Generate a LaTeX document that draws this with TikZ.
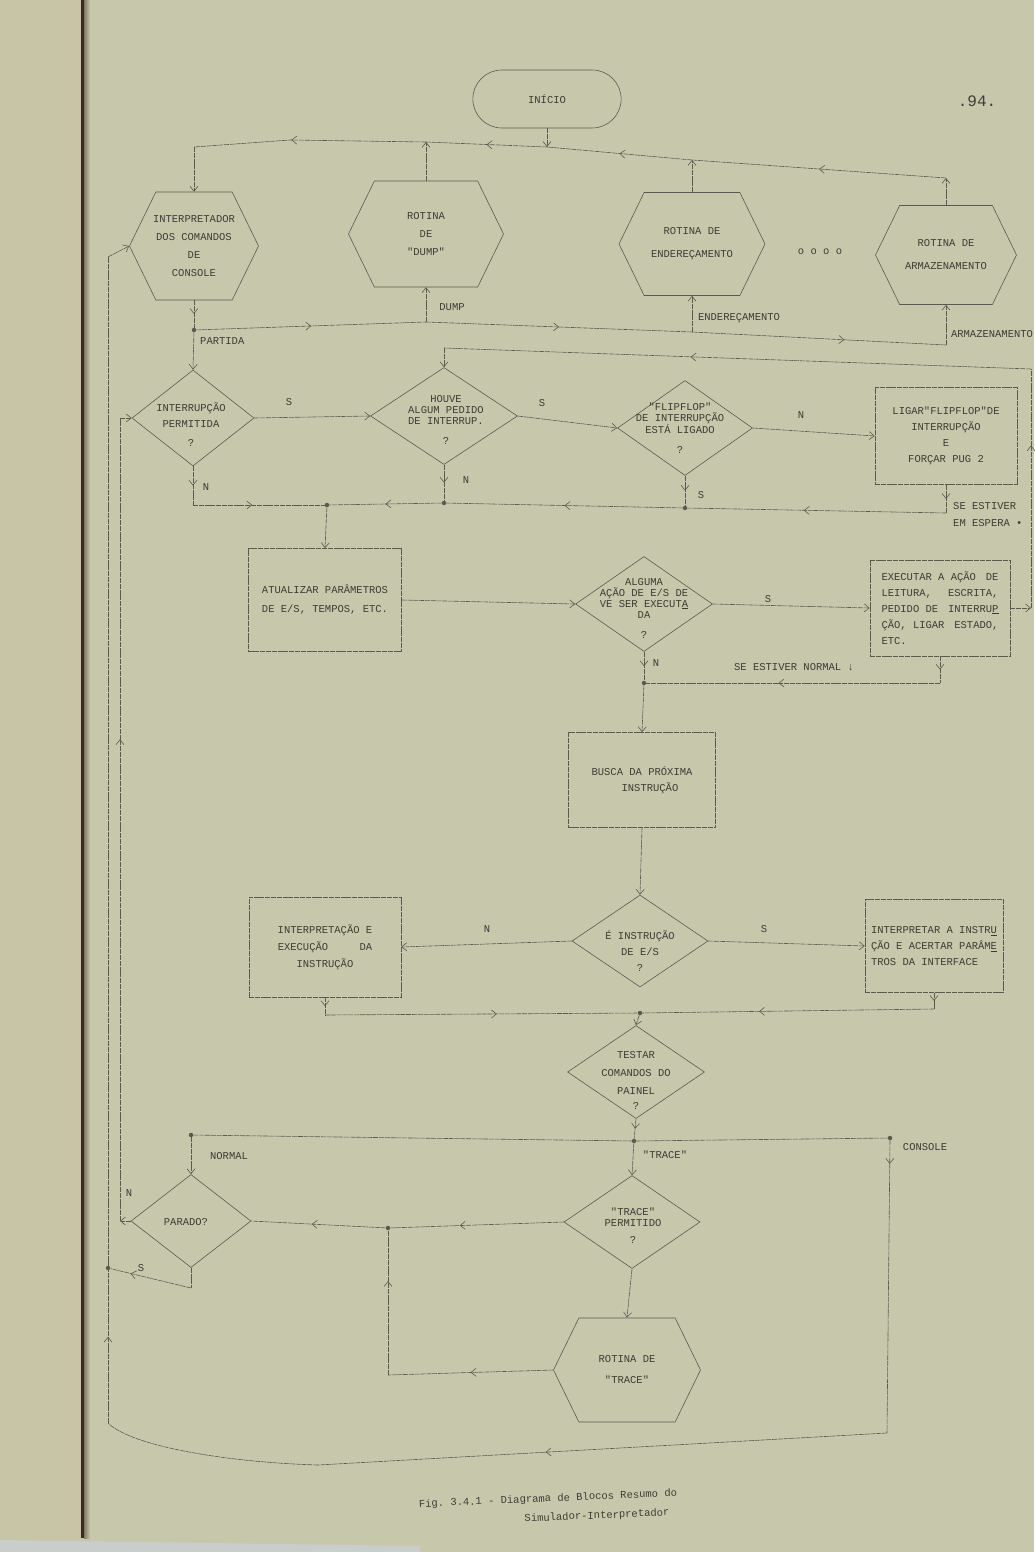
\documentclass[tikz,border=0pt]{standalone}
\usepackage{fontspec}
\setmonofont{Liberation Mono}
\usetikzlibrary{shapes.geometric,shapes.symbols,shapes.misc,arrows.meta,decorations.markings,calc}

\definecolor{paper}{HTML}{C7C8AB}
\definecolor{margin}{HTML}{C8C5A6}
\definecolor{ink}{HTML}{3C3C36}
\definecolor{rule}{HTML}{5A5A50}
\definecolor{spine}{HTML}{3A2A22}
\definecolor{floor}{HTML}{C9CDCC}

\begin{document}
\begin{tikzpicture}[x=1pt,y=-1pt,
  every node/.style={font=\fontsize{10.5}{18}\selectfont\ttfamily, text=ink},
  >={Straight Barb[length=5pt,width=8pt]},
  wire/.style={draw=rule, line width=0.6pt, dash pattern=on 5pt off 0.8pt},
  flow/.style={wire,->},
  midtip/.style={wire, postaction={decorate,decoration={markings,mark=at position #1 with {\arrow{Straight Barb[length=5pt,width=8pt]}}}}},
  midtip/.default=0.5,
  hexa/.style={shape=signal, signal to=east and west, signal pointer angle=128, draw=rule, line width=0.6pt, inner sep=0pt},
  deci/.style={diamond, draw=rule, line width=0.6pt, inner sep=0pt},
  proc/.style={rectangle, draw=rule, line width=0.6pt, dash pattern=on 5pt off 0.8pt, inner sep=0pt, align=center},
  txt/.style={inner sep=0pt, align=center},
  tight/.style={font=\fontsize{10.5}{11}\selectfont\ttfamily},
  lbl/.style={inner sep=0pt},
  junction/.style={circle, fill=rule, inner sep=0pt, minimum size=4.5pt},
]
% page, margin and binding
\useasboundingbox (0,0) rectangle (1034,1552);
\fill[paper] (0,0) rectangle (1034,1552);
\fill[margin] (0,0) rectangle (83,1552);
\fill[floor] (0,1540) -- (420,1546) -- (420,1552) -- (0,1552) -- cycle;
\fill[spine] (81,0) rectangle (84,1538);
\shade[left color=spine!50!paper, right color=paper] (84,0) rectangle (90,1538);

% start and page number
\node[rounded rectangle, draw=rule, line width=0.6pt, minimum width=155pt, minimum height=58pt] (inicio) at (547,99) {INÍCIO};
\node (pg) at (977,101) {\fontsize{16}{16}\selectfont .94.};

% routines
\node[hexa, minimum width=129pt, minimum height=108pt] (hcons) at (194,246) {};
\node[txt] (thcons) at (hcons) {INTERPRETADOR\\DOS COMANDOS\\DE\\CONSOLE};
\node[hexa, minimum width=155pt, minimum height=106pt] (hdump) at (426,234) {};
\node[txt] (thdump) at (hdump) {ROTINA\\DE\\"DUMP"};
\node[hexa, minimum width=146pt, minimum height=103pt] (hend) at (692,244) {};
\node[txt] (thend) at (hend) {ROTINA DE\\[5pt]ENDEREÇAMENTO};
\node[hexa, minimum width=141pt, minimum height=99pt] (harm) at (946,255) {};
\node[txt] (tharm) at (harm) {ROTINA DE\\[5pt]ARMAZENAMENTO};
\node (etc) at (820,252) {o o o o};

% top bus (returns to the console interpreter)
\coordinate (b0) at (194,147);
\coordinate (bk) at (290,140);
\coordinate (bD) at (426,142);
\coordinate (bI) at (547,147);
\coordinate (bE) at (692,160);
\coordinate (bA) at (946,178);
\draw[flow] (inicio.south) -- (bI);
\draw[midtip] (bA) -- (bE);
\draw[midtip] (bE) -- (bI);
\draw[midtip] (bI) -- (bD);
\draw[midtip=0.58] (bD) -- (bk) -- (b0);
\draw[flow] (b0) -- (hcons.north);
\draw[flow] (hdump.north) -- (bD);
\draw[flow] (hend.north) -- (bE);
\draw[flow] (harm.north) -- (bA);

% dispatch bus
\node[junction] (dP) at (194,330) {};
\coordinate (d1) at (426,322);
\coordinate (d2) at (692,332);
\coordinate (d3) at (946,345);
\draw[midtip] (hcons.south) -- (dP);
\draw[midtip] (dP) -- (d1);
\draw[midtip] (d1) -- (d2);
\draw[midtip=0.6] (d2) -- (d3);
\draw[flow] (d1) -- (hdump.south);
\draw[flow] (d2) -- (hend.south);
\draw[flow] (d3) -- (harm.south);
\node[lbl] (lDump) at (452,307) {DUMP};
\node[lbl] (lEnd) at (739,318) {ENDEREÇAMENTO};
\node[lbl] (lArm) at (992,334) {ARMAZENAMENTO};
\node[lbl, anchor=west] (lPart) at (200,341) {PARTIDA};

% interrupt handling
\node[deci, minimum width=122pt, minimum height=96pt] (dInt) at (193,418) {};
\node[txt] (tdInt) at (191,425) {INTERRUPÇÃO\\[-2pt]PERMITIDA\\[1pt]?};
\node[deci, minimum width=147pt, minimum height=97pt] (dHouve) at (444,416) {};
\node[txt, tight] (tdHouve) at (446,420) {HOUVE\\ALGUM PEDIDO\\DE INTERRUP.\\[9pt]?};
\node[deci, minimum width=135pt, minimum height=95pt] (dFlip) at (685,428) {};
\node[txt, tight] (tdFlip) at (680,428) {"FLIPFLOP"\\DE INTERRUPÇÃO\\ESTÁ LIGADO\\[9pt]?};
\node[proc, font=\fontsize{10.5}{16}\selectfont\ttfamily, minimum width=142pt, minimum height=97pt] (bLigar) at (946,436) {LIGAR"FLIPFLOP"DE\\INTERRUPÇÃO\\E\\FORÇAR PUG 2};
\draw[flow] (dP) -- (dInt.north);
\draw[flow] (dInt.east) -- (dHouve.west);
\draw[flow] (dHouve.east) -- (dFlip.west);
\draw[flow] (dFlip.east) -- (bLigar.west);
\node[lbl] (s1) at (289,402) {S};
\node[lbl] (s2) at (542,403) {S};
\node[lbl] (n1) at (801,415) {N};

% collecting bus below the interrupt tests
\coordinate (jL) at (193,505);
\node[junction] (j1) at (327,505) {};
\node[junction] (j2) at (444,503) {};
\node[junction] (j3) at (685,508) {};
\coordinate (jR) at (946,513);
\draw[midtip] (dInt.south) -- (jL);
\draw[midtip=0.45] (jL) -- (j1);
\draw[midtip] (dHouve.south) -- (j2);
\draw[midtip] (j2) -- (j1);
\draw[midtip] (dFlip.south) -- (j3);
\draw[midtip] (j3) -- (j2);
\draw[midtip] (bLigar.south) -- (jR);
\draw[midtip=0.55] (jR) -- (j3);
\node[lbl] (n2) at (206,487) {N};
\node[lbl] (n3) at (466,480) {N};
\node[lbl] (s3) at (701,495) {S};
\node[lbl, anchor=west, align=left, font=\fontsize{10.5}{17}\selectfont\ttfamily] (lEsp) at (953,515) {SE ESTIVER\\EM ESPERA •};

% I/O simulation
\node[proc, align=left, font=\fontsize{10.5}{19}\selectfont\ttfamily, minimum width=153pt, minimum height=103pt] (bAtu) at (325,600) {ATUALIZAR PARÂMETROS\\DE E/S, TEMPOS, ETC.};
\node[deci, minimum width=137pt, minimum height=95pt] (dAlg) at (644,604) {};
\node[txt, tight] (tdAlg) at (644,608) {ALGUMA\\AÇÃO DE E/S DE\\VE SER EXECUT\underline{A}\\DA\\[9pt]?};
\node[proc, align=left, font=\fontsize{10.5}{16}\selectfont\ttfamily, minimum width=140pt, minimum height=96pt] (bExe) at (940,608)
  {\makebox[117pt][l]{EXECUTAR A AÇÃO\hfill DE}\\\makebox[117pt][l]{LEITURA,\hfill ESCRITA,}\\\makebox[117pt][l]{PEDIDO DE\hfill INTERRU\underline{P}}\\\makebox[117pt][l]{ÇÃO, LIGAR\hfill ESTADO,}\\ETC.};
\draw[flow] (j1) -- (bAtu.north);
\draw[flow] (bAtu.east) -- (dAlg.west);
\draw[flow] (dAlg.east) -- (bExe.west);
\node[lbl] (s4) at (768,599) {S};

% return path along the right edge
\coordinate (rX1) at (1031,608);
\coordinate (rX2) at (1031,369);
\coordinate (rX3) at (444,348);
\draw[flow] (bExe.east) -- (rX1);
\draw[midtip=0.68] (rX1) -- (rX2);
\draw[midtip=0.58] (rX2) -- (rX3);
\draw[flow] (rX3) -- (dHouve.north);

\node[junction] (k1) at (644,683) {};
\coordinate (k2) at (940,683);
\draw[midtip] (bExe.south) -- (k2);
\draw[midtip=0.55] (k2) -- (k1);
\draw[midtip] (dAlg.south) -- (k1);
\node[lbl] (n4) at (656,663) {N};
\node[lbl] (lNorm) at (794,667) {SE ESTIVER NORMAL ↓};

% instruction fetch and execution
\node[proc, align=left, font=\fontsize{10.5}{16}\selectfont\ttfamily, minimum width=147pt, minimum height=95pt] (bBus) at (642,780) {BUSCA DA PRÓXIMA\\\hspace*{30pt}INSTRUÇÃO};
\node[deci, minimum width=136pt, minimum height=92pt] (dE) at (640,941) {};
\node[txt, font=\fontsize{10.5}{16}\selectfont\ttfamily] (tdE) at (640,951) {É INSTRUÇÃO\\DE E/S\\?};
\node[proc, font=\fontsize{10.5}{17}\selectfont\ttfamily, minimum width=152pt, minimum height=100pt] (bInt) at (325,947) {INTERPRETAÇÃO E\\\makebox[94.5pt][l]{EXECUÇÃO\hfill DA}\\INSTRUÇÃO};
\node[proc, align=left, font=\fontsize{10.5}{16}\selectfont\ttfamily, minimum width=138pt, minimum height=93pt] (bIpr) at (934,946) {INTERPRETAR A INSTR\underline{U}\\ÇÃO E ACERTAR PARÂM\underline{E}\\TROS DA INTERFACE};
\draw[flow] (k1) -- (bBus.north);
\draw[flow] (bBus.south) -- (dE.north);
\draw[flow] (dE.west) -- (bInt.east);
\draw[flow] (dE.east) -- (bIpr.west);
\node[lbl] (n5) at (487,929) {N};
\node[lbl] (s5) at (764,929) {S};

\coordinate (m0) at (325,1015);
\node[junction] (m1) at (640,1013) {};
\coordinate (m2) at (934,1009);
\draw[midtip] (bInt.south) -- (m0);
\draw[midtip=0.55] (m0) -- (m1);
\draw[midtip] (bIpr.south) -- (m2);
\draw[midtip=0.6] (m2) -- (m1);

% control panel test
\node[deci, minimum width=137pt, minimum height=93pt] (dT) at (636,1072) {};
\node[txt, font=\fontsize{10.5}{18}\selectfont\ttfamily] (tdT) at (636,1080) {TESTAR\\COMANDOS DO\\PAINEL\\[-3pt]?};
\draw[flow] (m1) -- (dT.north);
\node[junction] (t0) at (191,1135) {};
\node[junction] (t1) at (634,1141) {};
\node[junction] (t2) at (890,1138) {};
\draw[midtip] (dT.south) -- (t1);
\draw[wire] (t0) -- (t1) -- (t2);
\node[lbl] (lNormal) at (229,1156) {NORMAL};
\node[lbl] (lTrace) at (665,1155) {"TRACE"};
\node[lbl] (lCons) at (925,1147) {CONSOLE};

\node[deci, minimum width=120pt, minimum height=93pt] (dP2) at (191,1221) {};
\node[txt] (tdP2) at (186,1222) {PARADO?};
\node[deci, minimum width=136pt, minimum height=93pt] (dTr) at (632,1222) {};
\node[txt, tight] (tdTr) at (633,1226) {"TRACE"\\PERMITIDO\\[6pt]?};
\node[hexa, minimum width=147pt, minimum height=104pt] (hTr) at (627,1370) {};
\node[txt] (thTr) at (hTr) {ROTINA DE\\[3pt]"TRACE"};
\draw[flow] (t0) -- (dP2.north);
\draw[flow] (t1) -- (dTr.north);
\draw[flow] (dTr.south) -- (hTr.north);

\node[junction] (q1) at (388,1228) {};
\coordinate (q2) at (388,1375);
\draw[midtip=0.6] (dTr.west) -- (q1);
\draw[midtip=0.55] (q1) -- (dP2.east);
\draw[midtip] (hTr.west) -- (q2);
\draw[midtip=0.65] (q2) -- (q1);

% loops back on the left side
\coordinate (r1) at (120,1221);
\coordinate (r2) at (120,418);
\draw[flow] (dP2.west) -- (r1);
\draw[midtip=0.6] (r1) -- (r2);
\draw[flow] (r2) -- (dInt.west);
\node[lbl] (n6) at (129,1193) {N};

\node[junction] (s0) at (108,1268) {};
\coordinate (u1) at (191,1288);
\draw[wire] (dP2.south) -- (u1);
\draw[midtip=0.75] (u1) -- (s0);
\node[lbl] (s6) at (141,1268) {S};

\coordinate (p3) at (887,1433);
\coordinate (pB) at (318,1465);
\coordinate (pC) at (108,1423);
\coordinate (pD) at (108,257);
\draw[midtip=0.08] (t2) -- (p3);
\draw[midtip=0.6] (p3) -- (pB);
\draw[wire] (pB) .. controls (220,1462) and (130,1445) .. (pC);
\draw[midtip=0.074] (pC) -- (pD);
\draw[flow] (pD) -- (hcons.west);

% caption
\node[rotate=2.5] (cap1) at (548,1499) {Fig. 3.4.1 - Diagrama de Blocos Resumo do};
\node[rotate=2.5] (cap2) at (597,1516) {Simulador-Interpretador};
\end{tikzpicture}
\end{document}
